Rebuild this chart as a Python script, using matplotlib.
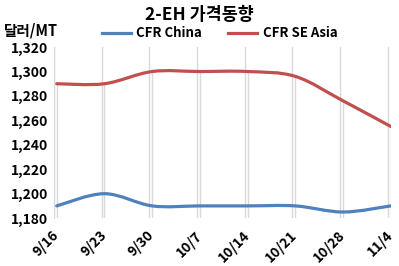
import numpy as np
import matplotlib
matplotlib.use('Agg')
import matplotlib.pyplot as plt
from matplotlib.path import Path
from matplotlib.patches import PathPatch

plt.rcParams['font.family'] = ['Noto Sans CJK KR', 'DejaVu Sans']
plt.rcParams['font.weight'] = 'bold'

# 데이터
dates = ['9/16', '9/23', '9/30', '10/7', '10/14', '10/21', '10/28', '11/4']
cfr_china = [1190, 1200, 1190, 1190, 1190, 1190, 1185, 1190]
cfr_se_asia = [1290, 1290, 1300, 1300, 1300, 1296, 1276, 1255]
y_ticks = [1180, 1200, 1220, 1240, 1260, 1280, 1300, 1320]


# 엑셀식 부드러운 선 (베지어)
def smooth_path(xs, ys):
    pts = list(zip(xs, ys))
    verts = [pts[0]]
    codes = [Path.MOVETO]
    n = len(pts)
    for i in range(n - 1):
        p0 = pts[i - 1] if i > 0 else pts[i]
        p1 = pts[i]
        p2 = pts[i + 1]
        p3 = pts[i + 2] if i + 2 < n else pts[i + 1]
        c1 = (p1[0] + (p2[0] - p0[0]) / 6, p1[1] + (p2[1] - p0[1]) / 6)
        c2 = (p2[0] - (p3[0] - p1[0]) / 6, p2[1] - (p3[1] - p1[1]) / 6)
        verts += [c1, c2, p2]
        codes += [Path.CURVE4] * 3
    return Path(verts, codes)


fig = plt.figure(figsize=(3.99, 2.66), dpi=100)
ax = fig.add_axes([0.135, 0.18, 0.845, 0.643])

x = np.arange(len(dates))
ax.set_xlim(-0.06, len(dates) - 1 + 0.005)
ax.set_ylim(1180, 1320)

# 세로 눈금선 + 드롭 라인
grid_c = '#d9d9d9'
for i in x:
    ax.axvline(i - 0.06, color=grid_c, lw=1, zorder=1)
    ax.plot([i, i], [1180, cfr_se_asia[i]], color=grid_c, lw=1, zorder=1)

blue = '#4f81bd'
red = '#c0504d'
ax.add_patch(PathPatch(smooth_path(x, cfr_china), fill=False, ec=blue, lw=2.3,
                       capstyle='round', zorder=3))
ax.add_patch(PathPatch(smooth_path(x, cfr_se_asia), fill=False, ec=red, lw=2.3,
                       capstyle='round', zorder=3))
ax.plot([], [], color=blue, lw=2.3, label='CFR China')
ax.plot([], [], color=red, lw=2.3, label='CFR SE Asia')

ax.set_yticks(y_ticks)
ax.set_yticklabels([f'{v:,}' for v in y_ticks], fontsize=10, fontweight='bold')
ax.set_xticks(x)
ax.set_xticklabels(dates, rotation=45, ha='right', va='center',
                   rotation_mode='anchor', fontsize=10, fontweight='bold')
ax.tick_params(length=0, pad=4)
ax.tick_params(axis='x', pad=11)

for s in ['top', 'right', 'bottom']:
    ax.spines[s].set_visible(False)
ax.spines['left'].set_color(grid_c)

fig.text(0.5, 0.945, '2-EH 가격동향', ha='center', va='center',
         fontsize=12.5, fontweight='bold')
fig.text(0.01, 0.885, '달러/MT', ha='left', va='center', fontsize=10.5,
         fontweight='bold')
fig.legend(loc='center', bbox_to_anchor=(0.55, 0.875), ncol=2, frameon=False,
           fontsize=9.5, handlelength=2.2, columnspacing=2.0, handletextpad=0.4)

fig.savefig('out.png', dpi=100)
